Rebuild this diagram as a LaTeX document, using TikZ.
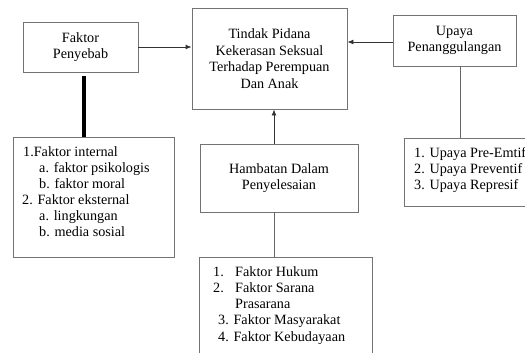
\documentclass[tikz,border=0pt]{standalone}
\usepackage{fontspec}
\setmainfont{Liberation Serif}
\usetikzlibrary{arrows.meta,calc}
\begin{document}
\begin{tikzpicture}[x=1pt,y=-1pt,
  box/.style={draw=black!55,line width=0.9pt,rectangle,inner sep=0pt,align=center,
    font=\fontsize{14.2}{16.6}\selectfont},
  txt/.style={anchor=base west,inner sep=0pt,font=\fontsize{14.2}{16.6}\selectfont},
  arr/.style={line width=0.9pt,black!80,-{Latex[length=6pt,width=5pt]}},
  conn/.style={line width=0.9pt,black!60}]
\clip (0,0) rectangle (525,353);
\useasboundingbox (0,0) rectangle (525,353);
\fill[white] (0,0) rectangle (525,353);
% boxes
\node[box,minimum width=115pt,minimum height=50pt] (fp) at (80.5,47) {Faktor\\Penyebab};
\node[box,minimum width=155pt,minimum height=101pt] (ctr) at (269.5,58.5) {Tindak Pidana\\Kekerasan Seksual\\Terhadap Perempuan\\Dan Anak};
\node[box,minimum width=123pt,minimum height=51pt] (up) at (454.5,40.5) {Upaya\\Penanggulangan};
\node[box,minimum width=161pt,minimum height=120pt] (ll) at (93.5,197) {};
\node[box,minimum width=158pt,minimum height=68pt] (ham) at (279,178) {Hambatan Dalam\\Penyelesaian};
\node[box,minimum width=173pt,minimum height=113pt] (bl) at (285.5,313.5) {};
\node[box,minimum width=136pt,minimum height=68pt] (ul) at (472,172) {};
% left list
\node[txt] (l1) at (23,156) {1.Faktor internal};
\node[txt] (l2) at (39,172) {a. faktor psikologis};
\node[txt] (l3) at (39,188) {b. faktor moral};
\node[txt] (l4) at (22,204) {2. Faktor eksternal};
\node[txt] (l5) at (39,220) {a. lingkungan};
\node[txt] (l6) at (39,236) {b. media sosial};
% upaya list
\node[txt] (u1) at (414,157) {1. Upaya Pre-Emtif};
\node[txt] (u2) at (414,173) {2. Upaya Preventif};
\node[txt] (u3) at (414,189) {3. Upaya Represif};
% bottom list
\node[txt] (b1n) at (213,276) {1.};
\node[txt] (b1) at (235,276) {Faktor Hukum};
\node[txt] (b2n) at (213,292.3) {2.};
\node[txt] (b2) at (235,292.3) {Faktor Sarana};
\node[txt] (b2b) at (235,308.6) {Prasarana};
\node[txt] (b3) at (218,324.9) {3. Faktor Masyarakat};
\node[txt] (b4) at (218,341.2) {4. Faktor Kebudayaan};
% connectors
\draw[arr] (fp.east) -- (fp.east -| ctr.west);
\draw[arr] (up.west |- 0,42) -- (ctr.east |- 0,42);
\coordinate (hx) at ($(ham.north)+(-5,0)$);
\draw[arr] (hx) -- (hx |- ctr.south);
\coordinate (tk) at ($(fp.south)+(3.5,4)$);
\draw[line width=3.5pt,black] (tk) -- (tk |- ll.north);
\coordinate (ux) at ($(up.south)+(5.5,0)$);
\draw[conn] (ux) -- (ux |- ul.north);
\coordinate (hb) at ($(ham.south)+(-5,0)$);
\draw[conn] (hb) -- (hb |- bl.north);
\end{tikzpicture}
\end{document}
